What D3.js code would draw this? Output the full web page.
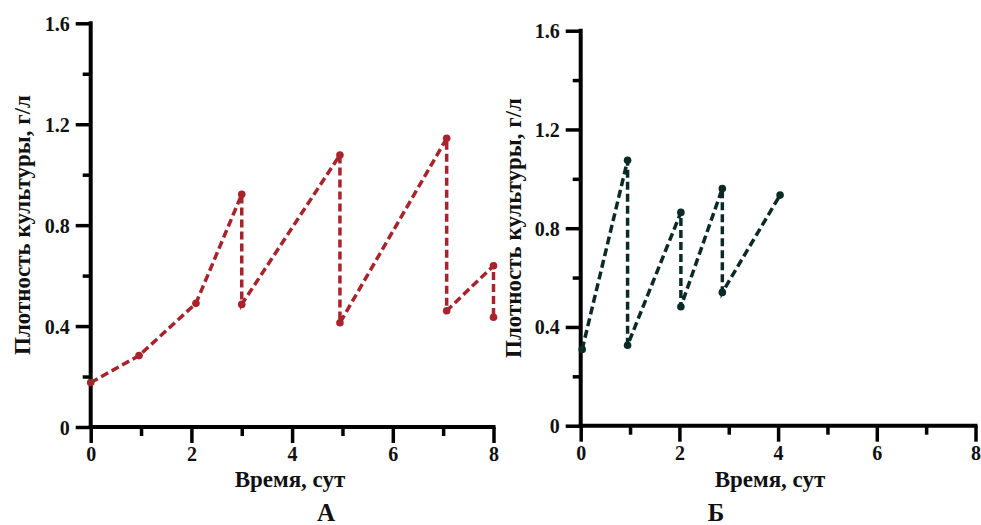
<!DOCTYPE html>
<html>
<head>
<meta charset="utf-8">
<script src="https://cdn.jsdelivr.net/npm/d3@7"></script>
<style>
  body { margin: 0; background: #fff; }
  svg text { font-family: "Liberation Serif", "Times New Roman", serif; font-weight: bold; fill: #111; }
</style>
</head>
<body>
<div id="chart-area"></div>
<script>
var width = 981;
var height = 525;

// panel A (red)
var timeA = [0, 0.96, 2.09, 3.0, 3.0, 4.95, 4.95, 7.07, 7.07, 8.0, 8.0];
var densA = [0.176, 0.283, 0.49, 0.922, 0.486, 1.078, 0.413, 1.144, 0.461, 0.639, 0.435];

// panel B (dark green)
var timeB = [0.03, 0.95, 0.95, 2.03, 2.03, 2.87, 2.87, 4.04];
var densB = [0.309, 1.075, 0.326, 0.864, 0.482, 0.961, 0.540, 0.934];

var yTicks = [0, 0.2, 0.4, 0.6, 0.8, 1.0, 1.2, 1.4, 1.6];
var xTicks = [0, 1, 2, 3, 4, 5, 6, 7, 8];
var yLabel = "Плотность культуры, г/л";
var xLabel = "Время, сут";

var panels = [
  { name: "А", t: timeA, d: densA, color: "#a8232b",
    x0: 90.7, x1: 493.5, y0: 427, y1: 23.3, yLab: 22, yLabC: 225, xLabX: 290, nameX: 326 },
  { name: "Б", t: timeB, d: densB, color: "#0c2a25",
    x0: 580.7, x1: 975.5, y0: 425.7, y1: 30.7, yLab: 513, yLabC: 228, xLabX: 770, nameX: 716 }
];

var svg = d3.select("#chart-area")
  .append("svg")
  .attr("width", width)
  .attr("height", height);

panels.forEach(function(p) {
  var x = d3.scaleLinear().domain([0, 8]).range([p.x0, p.x1]);
  var y = d3.scaleLinear().domain([0, 1.6]).range([p.y0, p.y1]);
  var g = svg.append("g");

  var isMajorY = function(v) { return Math.abs(Math.round(v * 10) % 4) === 0; };
  var isMajorX = function(v) { return v % 2 === 0; };

  var yAxis = d3.axisLeft(y)
    .tickValues(yTicks)
    .tickSize(0)
    .tickPadding(21)
    .tickFormat(function(v) { return isMajorY(v) ? d3.format(".1~f")(v) : ""; });

  var gy = g.append("g")
    .attr("transform", "translate(" + p.x0 + ",0)")
    .call(yAxis);
  gy.select(".domain").attr("stroke", "#000").attr("stroke-width", 4)
    .attr("d", "M0," + p.y0 + "V" + (p.y1 - 2));
  gy.selectAll(".tick line")
    .attr("x2", function(v) { return isMajorY(v) ? -15 : -8; })
    .attr("stroke", "#000").attr("stroke-width", 3.5);
  gy.selectAll(".tick text").style("font-size", "20px").attr("dy", "0.35em");

  var xAxis = d3.axisBottom(x)
    .tickValues(xTicks)
    .tickSize(0)
    .tickPadding(20)
    .tickFormat(function(v) { return isMajorX(v) ? v : ""; });

  var gx = g.append("g")
    .attr("transform", "translate(0," + p.y0 + ")")
    .call(xAxis);
  gx.select(".domain").attr("stroke", "#000").attr("stroke-width", 4)
    .attr("d", "M" + (p.x0 - 2) + ",0H" + (p.x1 + 2));
  gx.selectAll(".tick line")
    .attr("y2", function(v) { return isMajorX(v) ? 16 : 9; })
    .attr("stroke", "#000").attr("stroke-width", 3.5);
  gx.selectAll(".tick text").style("font-size", "20px").attr("dy", "0.71em");

  // axis titles
  g.append("text")
    .attr("transform", "translate(" + p.yLab + "," + p.yLabC + ") rotate(-90)")
    .attr("text-anchor", "middle")
    .attr("dy", "0.35em")
    .style("font-size", "23px")
    .text(yLabel);

  g.append("text")
    .attr("x", p.xLabX)
    .attr("y", 487)
    .attr("text-anchor", "middle")
    .style("font-size", "23px")
    .text(xLabel);

  g.append("text")
    .attr("x", p.nameX)
    .attr("y", 521)
    .attr("text-anchor", "middle")
    .style("font-size", "25px")
    .text(p.name);

  var pts = p.t.map(function(t, i) { return [t, p.d[i]]; });

  var line = d3.line()
    .x(function(d) { return x(d[0]); })
    .y(function(d) { return y(d[1]); });

  g.append("path")
    .datum(pts)
    .attr("d", line)
    .attr("fill", "none")
    .attr("stroke", p.color)
    .attr("stroke-width", 3.5)
    .attr("stroke-dasharray", "8,4");

  g.selectAll(".pt")
    .data(pts)
    .enter()
    .append("circle")
    .attr("class", "pt")
    .attr("cx", function(d) { return x(d[0]); })
    .attr("cy", function(d) { return y(d[1]); })
    .attr("r", 3.8)
    .attr("fill", p.color);
});
</script>
</body>
</html>
